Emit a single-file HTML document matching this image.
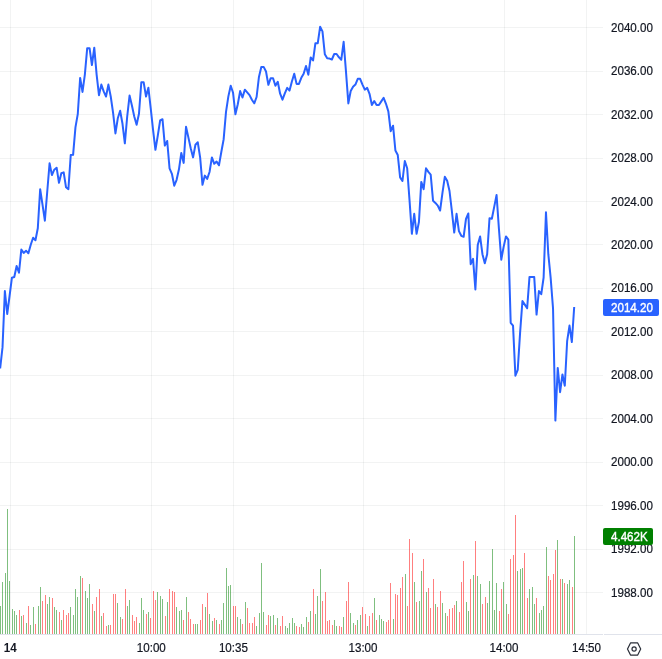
<!DOCTYPE html>
<html lang="en">
<head>
<meta charset="utf-8">
<title>Chart</title>
<style>
html,body{margin:0;padding:0;background:#fff;}
body{width:662px;height:659px;overflow:hidden;position:relative;font-family:"Liberation Sans",sans-serif;}
svg{position:absolute;left:0;top:0;display:block;}
.lbl{position:absolute;font-size:11.6px;line-height:14px;height:14px;color:#131722;white-space:nowrap;-webkit-text-stroke:0.2px #131722;}
.pl{left:611px;transform:scaleY(1.1);transform-origin:0 50%;}
.tl{top:641px;transform:translateX(-50%) scaleY(1.1);transform-origin:50% 50%;}
.tag{position:absolute;left:603px;height:17px;border-radius:2px;color:#fff;font-size:11.6px;line-height:17px;-webkit-text-stroke:0.35px #fff;box-sizing:border-box;padding-left:8px;white-space:nowrap;}
.tag span{display:inline-block;transform:scaleY(1.1);transform-origin:0 50%;}
</style>
</head>
<body>

<svg width="662" height="659" viewBox="0 0 662 659">
<g fill="rgba(42,46,57,0.06)" shape-rendering="crispEdges"><rect x="0" y="27" width="603" height="1"/><rect x="0" y="71" width="603" height="1"/><rect x="0" y="114" width="603" height="1"/><rect x="0" y="158" width="603" height="1"/><rect x="0" y="201" width="603" height="1"/><rect x="0" y="244" width="603" height="1"/><rect x="0" y="288" width="603" height="1"/><rect x="0" y="331" width="603" height="1"/><rect x="0" y="375" width="603" height="1"/><rect x="0" y="418" width="603" height="1"/><rect x="0" y="462" width="603" height="1"/><rect x="0" y="505" width="603" height="1"/><rect x="0" y="549" width="603" height="1"/><rect x="0" y="592" width="603" height="1"/><rect x="10" y="0" width="1" height="634"/><rect x="151" y="0" width="1" height="634"/><rect x="233" y="0" width="1" height="634"/><rect x="363" y="0" width="1" height="634"/><rect x="504" y="0" width="1" height="634"/><rect x="586" y="0" width="1" height="634"/></g>
<path d="M0 606h1v28h-1zM2 582h1v52h-1zM5 573h1v61h-1zM7 509h1v125h-1zM9 581h1v53h-1zM12 609h1v25h-1zM14 611h1v23h-1zM16 615h1v19h-1zM21 616h1v18h-1zM26 623h1v11h-1zM30 625h1v9h-1zM33 607h1v27h-1zM38 606h1v28h-1zM40 587h1v47h-1zM47 604h1v30h-1zM49 597h1v37h-1zM54 607h1v27h-1zM56 610h1v24h-1zM61 620h1v14h-1zM70 607h1v27h-1zM73 615h1v19h-1zM75 589h1v45h-1zM77 597h1v37h-1zM80 576h1v58h-1zM85 591h1v43h-1zM87 598h1v36h-1zM89 584h1v50h-1zM94 611h1v23h-1zM101 616h1v18h-1zM108 625h1v9h-1zM117 603h1v31h-1zM120 617h1v17h-1zM127 606h1v28h-1zM129 600h1v34h-1zM139 623h1v11h-1zM141 598h1v36h-1zM143 610h1v24h-1zM148 612h1v22h-1zM157 592h1v42h-1zM160 596h1v38h-1zM162 599h1v35h-1zM167 602h1v32h-1zM176 607h1v27h-1zM179 611h1v23h-1zM181 610h1v24h-1zM186 597h1v37h-1zM195 624h1v10h-1zM197 624h1v10h-1zM205 607h1v27h-1zM209 614h1v20h-1zM212 621h1v13h-1zM216 620h1v14h-1zM221 620h1v14h-1zM223 603h1v31h-1zM226 568h1v66h-1zM228 586h1v48h-1zM230 585h1v49h-1zM237 617h1v17h-1zM240 619h1v15h-1zM245 602h1v32h-1zM256 626h1v8h-1zM259 613h1v21h-1zM261 563h1v71h-1zM263 612h1v22h-1zM270 616h1v18h-1zM273 615h1v19h-1zM277 618h1v16h-1zM285 626h1v8h-1zM287 628h1v6h-1zM289 623h1v11h-1zM292 618h1v16h-1zM294 623h1v11h-1zM301 624h1v10h-1zM303 627h1v7h-1zM306 617h1v17h-1zM310 611h1v23h-1zM315 614h1v20h-1zM317 596h1v38h-1zM320 569h1v65h-1zM334 620h1v14h-1zM336 626h1v8h-1zM343 617h1v17h-1zM350 613h1v21h-1zM353 623h1v11h-1zM357 620h1v14h-1zM360 615h1v19h-1zM367 626h1v8h-1zM374 598h1v36h-1zM379 615h1v19h-1zM381 619h1v15h-1zM383 621h1v13h-1zM393 619h1v15h-1zM405 574h1v60h-1zM414 582h1v52h-1zM419 601h1v33h-1zM421 571h1v63h-1zM426 592h1v42h-1zM435 604h1v30h-1zM442 603h1v31h-1zM445 613h1v21h-1zM456 601h1v33h-1zM466 602h1v32h-1zM468 611h1v23h-1zM473 575h1v59h-1zM477 576h1v58h-1zM480 584h1v50h-1zM487 603h1v31h-1zM489 581h1v53h-1zM492 549h1v85h-1zM494 610h1v24h-1zM496 583h1v51h-1zM503 582h1v52h-1zM506 604h1v30h-1zM517 571h1v63h-1zM520 569h1v65h-1zM522 568h1v66h-1zM529 589h1v45h-1zM532 587h1v47h-1zM534 604h1v30h-1zM539 613h1v21h-1zM541 610h1v24h-1zM543 606h1v28h-1zM546 547h1v87h-1zM557 540h1v94h-1zM562 579h1v55h-1zM567 584h1v50h-1zM569 580h1v54h-1zM574 536h1v98h-1z" fill="rgba(0,128,0,0.5)" shape-rendering="crispEdges"/>
<path d="M19 610h1v24h-1zM23 615h1v19h-1zM28 606h1v28h-1zM35 624h1v10h-1zM42 601h1v33h-1zM45 595h1v39h-1zM52 598h1v36h-1zM59 612h1v22h-1zM63 610h1v24h-1zM66 615h1v19h-1zM68 613h1v21h-1zM82 578h1v56h-1zM92 604h1v30h-1zM96 597h1v37h-1zM99 589h1v45h-1zM103 613h1v21h-1zM106 626h1v8h-1zM110 625h1v9h-1zM113 594h1v40h-1zM115 594h1v40h-1zM122 619h1v15h-1zM125 589h1v45h-1zM132 615h1v19h-1zM134 621h1v13h-1zM136 617h1v17h-1zM146 614h1v20h-1zM150 618h1v16h-1zM153 591h1v43h-1zM155 600h1v34h-1zM165 616h1v18h-1zM169 589h1v45h-1zM172 591h1v43h-1zM174 592h1v42h-1zM183 620h1v14h-1zM188 612h1v22h-1zM190 619h1v15h-1zM193 624h1v10h-1zM200 620h1v14h-1zM202 604h1v30h-1zM207 593h1v41h-1zM214 618h1v16h-1zM219 624h1v10h-1zM233 606h1v28h-1zM235 606h1v28h-1zM242 624h1v10h-1zM247 608h1v26h-1zM249 623h1v11h-1zM252 623h1v11h-1zM254 617h1v17h-1zM266 625h1v9h-1zM268 615h1v19h-1zM275 625h1v9h-1zM280 626h1v8h-1zM282 616h1v18h-1zM296 626h1v8h-1zM299 627h1v7h-1zM308 622h1v12h-1zM313 589h1v45h-1zM322 601h1v33h-1zM325 592h1v42h-1zM327 621h1v13h-1zM329 620h1v14h-1zM332 625h1v9h-1zM339 626h1v8h-1zM341 627h1v7h-1zM346 601h1v33h-1zM348 582h1v52h-1zM355 625h1v9h-1zM362 607h1v27h-1zM365 614h1v20h-1zM369 616h1v18h-1zM372 613h1v21h-1zM376 620h1v14h-1zM386 622h1v12h-1zM388 620h1v14h-1zM390 583h1v51h-1zM395 594h1v40h-1zM397 595h1v39h-1zM400 588h1v46h-1zM402 577h1v57h-1zM407 606h1v28h-1zM409 539h1v95h-1zM412 553h1v81h-1zM416 602h1v32h-1zM423 559h1v75h-1zM428 588h1v46h-1zM430 608h1v26h-1zM433 579h1v55h-1zM437 607h1v27h-1zM440 591h1v43h-1zM447 616h1v18h-1zM449 609h1v25h-1zM452 608h1v26h-1zM454 605h1v29h-1zM459 612h1v22h-1zM461 582h1v52h-1zM463 561h1v73h-1zM470 579h1v55h-1zM475 541h1v93h-1zM482 604h1v30h-1zM485 597h1v37h-1zM499 611h1v23h-1zM501 589h1v45h-1zM508 614h1v20h-1zM510 559h1v75h-1zM513 555h1v79h-1zM515 515h1v119h-1zM524 553h1v81h-1zM527 598h1v36h-1zM536 598h1v36h-1zM548 576h1v58h-1zM550 580h1v54h-1zM553 574h1v60h-1zM555 550h1v84h-1zM560 579h1v55h-1zM564 583h1v51h-1zM572 587h1v47h-1z" fill="rgba(255,0,0,0.5)" shape-rendering="crispEdges"/>
<path d="M0 634h603v1h-603zM604 634h58v1h-58z" fill="#e0e3eb" shape-rendering="crispEdges"/>
<polyline points="0.16,368.4 2.51,347.4 4.87,291.0 7.22,314.0 9.57,296.0 11.92,277.7 14.28,277.0 16.63,266.0 18.98,272.7 21.33,249.6 23.69,252.9 26.04,250.7 28.39,253.3 30.75,244.7 33.10,237.8 35.45,240.2 37.80,228.3 40.16,189.2 42.51,204.6 44.86,220.7 47.21,192.0 49.57,163.3 51.92,175.1 54.27,169.7 56.62,167.7 58.98,182.8 61.33,173.3 63.68,172.4 66.03,187.3 68.39,189.2 70.74,155.1 73.09,154.8 75.45,127.4 77.80,113.8 80.15,77.9 82.50,91.9 84.86,74.6 87.21,48.2 89.56,48.2 91.91,65.0 94.27,47.7 96.62,74.6 98.97,95.2 101.32,84.6 103.68,91.4 106.03,96.5 108.38,84.6 110.73,96.5 113.09,112.9 115.44,133.4 117.79,118.3 120.14,110.7 122.50,123.8 124.85,143.3 127.20,116.5 129.56,95.6 131.91,105.6 134.26,116.5 136.61,124.7 138.97,113.8 141.32,82.3 143.67,82.3 146.02,96.5 148.38,87.7 150.73,108.3 153.08,130.1 155.43,149.8 157.79,135.6 160.14,120.5 162.49,119.2 164.84,145.6 167.20,141.0 169.55,168.4 171.90,173.8 174.26,185.7 176.61,179.8 178.96,169.3 181.31,152.9 183.67,162.9 186.02,126.8 188.37,137.4 190.72,148.3 193.08,157.4 195.43,144.7 197.78,142.3 200.13,157.4 202.49,184.8 204.84,175.6 207.19,178.9 209.54,172.0 211.90,157.4 214.25,163.8 216.60,161.6 218.96,165.3 221.31,152.0 223.66,139.2 226.01,111.9 228.37,96.4 230.72,85.8 233.07,92.8 235.42,114.3 237.78,104.3 240.13,91.1 242.48,97.5 244.83,89.7 247.19,92.4 249.54,95.1 251.89,99.7 254.24,103.3 256.60,97.0 258.95,76.9 261.30,66.9 263.66,66.9 266.01,71.5 268.36,84.8 270.71,78.2 273.07,78.2 275.42,85.7 277.77,81.8 280.12,93.7 282.48,99.7 284.83,93.3 287.18,87.9 289.53,90.6 291.89,81.5 294.24,73.7 296.59,83.9 298.94,83.9 301.30,77.8 303.65,73.7 306.00,66.0 308.36,74.7 310.71,57.4 313.06,60.5 315.41,43.2 317.77,43.2 320.12,26.8 322.47,31.4 324.82,54.2 327.18,58.2 329.53,58.6 331.88,59.5 334.23,54.0 336.59,54.0 338.94,57.3 341.29,59.7 343.64,41.8 346.00,71.9 348.35,103.4 350.70,91.0 353.06,86.8 355.41,84.6 357.76,78.8 360.11,78.8 362.47,84.6 364.82,89.7 367.17,87.9 369.52,93.8 371.88,105.0 374.23,101.0 376.58,105.0 378.93,105.0 381.29,101.4 383.64,97.8 385.99,103.8 388.34,111.4 390.70,131.2 393.05,125.7 395.40,150.5 397.76,155.0 400.11,177.4 402.46,181.0 404.81,161.0 407.17,168.3 409.52,200.1 411.87,233.8 414.22,213.8 416.58,233.8 418.93,222.0 421.28,181.9 423.63,189.2 425.99,168.3 428.34,171.9 430.69,174.6 433.04,200.7 435.40,202.9 437.75,205.6 440.10,210.5 442.46,192.9 444.81,176.8 447.16,180.7 449.51,191.0 451.87,211.1 454.22,232.6 456.57,213.8 458.92,231.1 461.28,235.8 463.63,236.8 465.98,219.0 468.33,213.5 470.69,264.2 473.04,258.8 475.39,289.4 477.74,245.1 480.10,236.4 482.45,254.2 484.80,263.3 487.16,254.2 489.51,218.2 491.86,218.7 494.21,206.9 496.57,195.0 498.92,228.7 501.27,259.7 503.62,246.9 505.98,236.4 508.33,239.6 510.68,322.8 513.03,325.6 515.39,375.7 517.74,369.8 520.09,332.9 522.44,301.0 524.80,304.6 527.15,308.3 529.50,276.9 531.86,276.9 534.21,276.9 536.56,314.6 538.91,291.0 541.27,294.2 543.62,277.5 545.97,212.3 548.32,254.2 550.68,278.2 553.03,308.3 555.38,420.6 557.73,367.9 560.09,392.2 562.44,374.5 564.79,385.7 567.14,341.2 569.50,325.6 571.85,342.0 574.20,307.0" fill="none" stroke="#2962ff" stroke-width="2" stroke-linejoin="round" stroke-linecap="butt"/>
<g fill="none" stroke="#2a2e39" stroke-width="1.2" stroke-linejoin="round"><path d="M627.5 649L630.5 642.9H637.7L640.7 649L637.7 655.1H630.5Z"/><circle cx="634.1" cy="649" r="2.1"/></g>
</svg>
<div class="lbl pl" style="top:20.7px">2040.00</div>
<div class="lbl pl" style="top:63.7px">2036.00</div>
<div class="lbl pl" style="top:107.7px">2032.00</div>
<div class="lbl pl" style="top:150.7px">2028.00</div>
<div class="lbl pl" style="top:194.7px">2024.00</div>
<div class="lbl pl" style="top:237.7px">2020.00</div>
<div class="lbl pl" style="top:280.7px">2016.00</div>
<div class="lbl pl" style="top:324.7px">2012.00</div>
<div class="lbl pl" style="top:367.7px">2008.00</div>
<div class="lbl pl" style="top:411.7px">2004.00</div>
<div class="lbl pl" style="top:454.7px">2000.00</div>
<div class="lbl pl" style="top:498.7px">1996.00</div>
<div class="lbl pl" style="top:541.7px">1992.00</div>
<div class="lbl pl" style="top:585.7px">1988.00</div>
<div class="lbl tl" style="left:10.2px;font-weight:bold;-webkit-text-stroke:0;">14</div>
<div class="lbl tl" style="left:151.3px;">10:00</div>
<div class="lbl tl" style="left:233.4px;">10:35</div>
<div class="lbl tl" style="left:363px;">13:00</div>
<div class="lbl tl" style="left:504px;">14:00</div>
<div class="lbl tl" style="left:586.5px;">14:50</div>
<div class="tag" style="top:299px;width:56px;background:#2962ff;"><span>2014.20</span></div>
<div class="tag" style="top:528px;width:50px;background:#008000;"><span>4.462K</span></div>
</body></html>
